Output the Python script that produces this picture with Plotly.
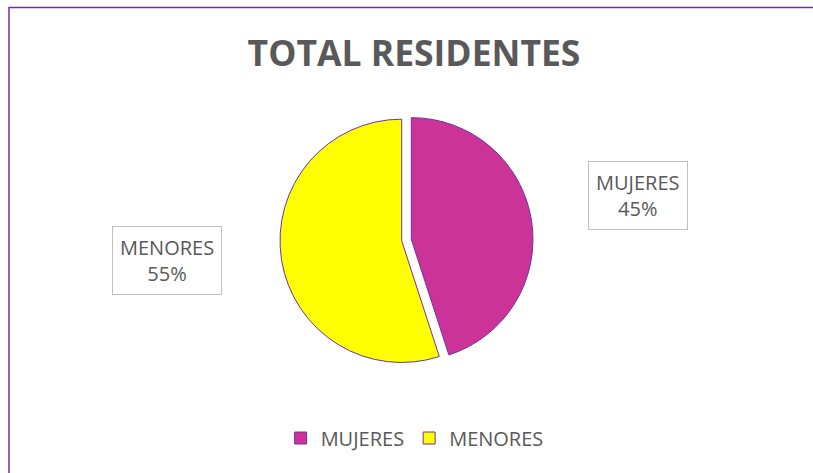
import plotly.graph_objects as go

labels = ["MUJERES", "MENORES"]
values = [45, 55]
colors = ["#CC3399", "#FFFF00"]
title_text = "TOTAL RESIDENTES"

total = sum(values)
pcts = [round(v * 100 / total) for v in values]

FONT = "Open Sans, Lato, sans-serif"

fig = go.Figure()
fig.add_trace(go.Pie(
    labels=labels,
    values=values,
    sort=False,
    direction="clockwise",
    rotation=0,
    pull=[0.04, 0.04],
    textinfo="none",
    hoverinfo="label+percent",
    marker=dict(colors=colors, line=dict(color="#7030A0", width=1)),
    domain=dict(x=[0.25, 0.75], y=[0.225, 0.76]),
))

label_pos = {"MUJERES": (638 / 813, 1 - 195 / 473), "MENORES": (167 / 813, 1 - 260 / 473)}
annotations = []
for lab, p in zip(labels, pcts):
    x, y = label_pos[lab]
    annotations.append(dict(
        x=x, y=y, xref="paper", yref="paper", showarrow=False,
        xanchor="center", yanchor="middle",
        text=f"{lab}<br>{p}%", align="center",
        font=dict(family=FONT, size=20, color="#595959"),
        bordercolor="#BFBFBF", borderwidth=1, borderpad=7, bgcolor="white",
    ))

fig.update_layout(
    width=813, height=473,
    margin=dict(l=0, r=0, t=0, b=0),
    paper_bgcolor="white",
    title=dict(text=f"<b>{title_text}</b>", x=414 / 813, xanchor="center", y=1 - 54 / 473, yanchor="middle",
               font=dict(family=FONT, size=35.5, color="#595959")),
    showlegend=True,
    legend=dict(orientation="h", x=0.51, xanchor="center", y=1 - 438 / 473, yanchor="middle",
                font=dict(family=FONT, size=20, color="#595959"),
                traceorder="normal"),
    annotations=annotations,
    shapes=[dict(type="rect", xref="paper", yref="paper",
                 x0=9 / 813, x1=1.05, y0=-0.05, y1=1 - 7.5 / 473,
                 line=dict(color="#7030A0", width=1.5))],
)

fig.write_html("out.html", config={"displayModeBar": False},
               post_script="document.body.style.margin='0';document.body.style.overflow='hidden';")
